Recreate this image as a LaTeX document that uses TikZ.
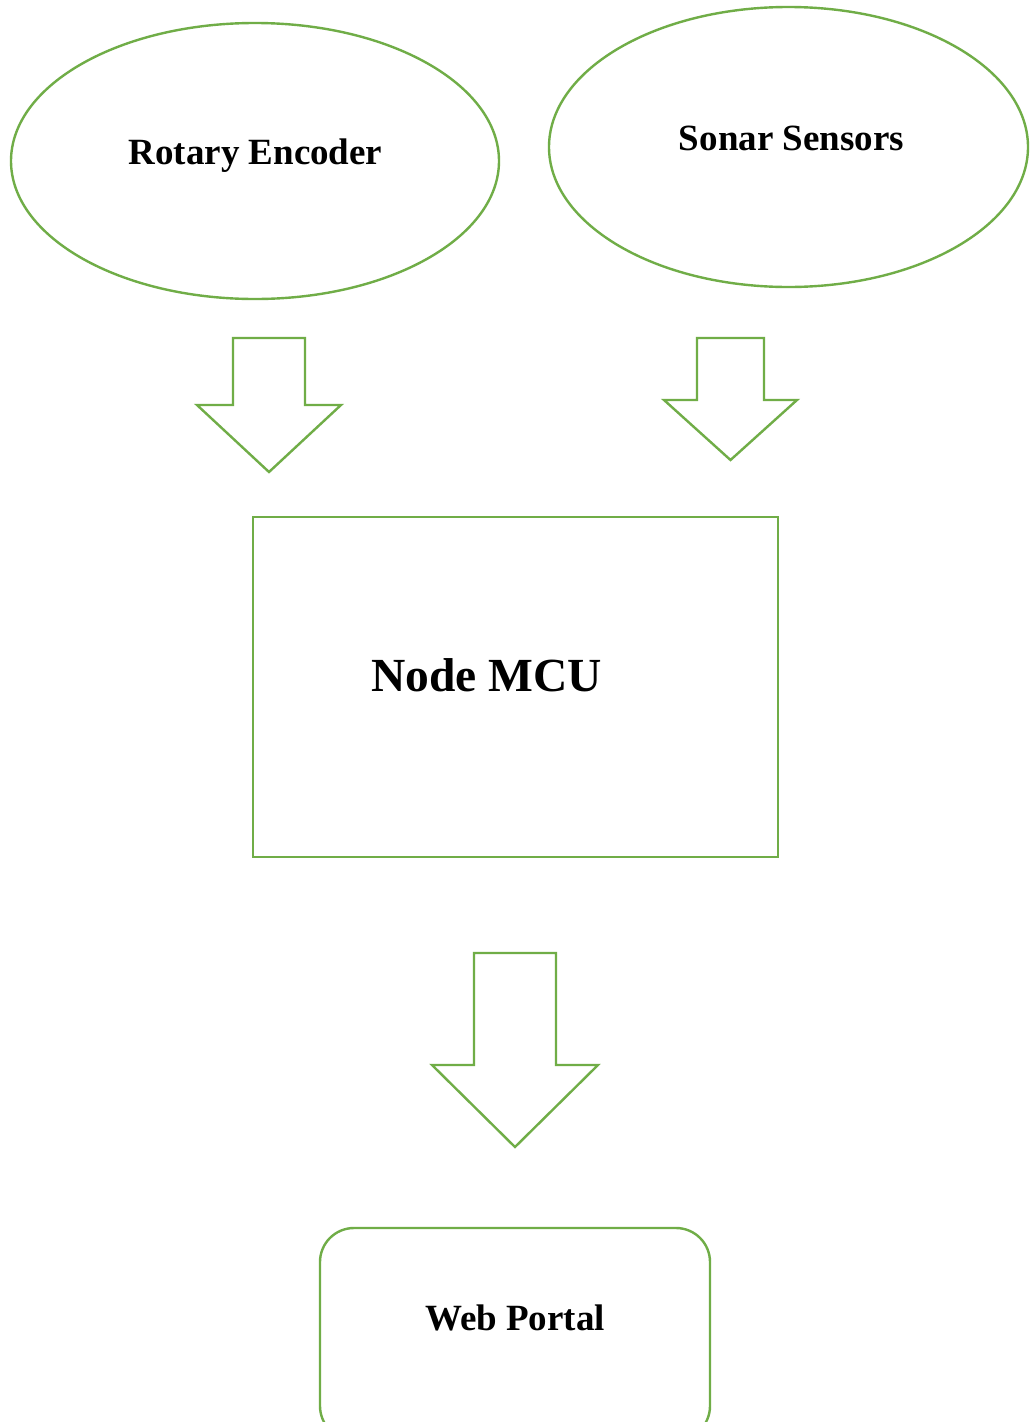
\documentclass[tikz,border=0pt]{standalone}
\usepackage{fontspec}
\setmainfont{Liberation Serif}
\usetikzlibrary{shapes.geometric}
\definecolor{lgreen}{HTML}{70AD47}
\tikzset{
  outline/.style={draw=lgreen, line width=2.4pt},
  label37/.style={font=\bfseries\fontsize{37}{44}\selectfont, anchor=base, inner sep=0},
  bigarrow/.style={outline, line join=miter},
}
\begin{document}
\begin{tikzpicture}[x=1pt,y=-1pt]
\clip (0,0) rectangle (1029,1422);
\fill[white] (0,0) rectangle (1029,1422);
% ellipses
\node (enc) [outline, ellipse, inner sep=0, minimum width=488pt, minimum height=276pt] at (255,161) {};
\node (son) [outline, ellipse, inner sep=0, minimum width=479pt, minimum height=280pt] at (788.5,147) {};
\node (enclbl) [label37] at (255.5,164) {Rotary Encoder};
\node (sonlbl) [label37] at (791.5,150) {Sonar Sensors};
% MCU box
\node (mcu) [outline, rectangle, inner sep=0, minimum width=525pt, minimum height=340pt] at (515.5,687) {};
\node (mculbl) [label37, font=\bfseries\fontsize{47.5}{56}\selectfont] at (486.5,691) {Node MCU};
% Web portal
\node (web) [outline, rectangle, rounded corners=34pt, inner sep=0, minimum width=390pt, minimum height=212pt] at (515,1334) {};
\node (weblbl) [label37] at (515,1330) {Web Portal};
% block arrows
\draw[bigarrow] (233,338) -- (305,338) -- (305,405) -- (341,405) -- (269,472) -- (197,405) -- (233,405) -- cycle;
\draw[bigarrow] (697,338) -- (764,338) -- (764,400) -- (797,400) -- (730.5,460) -- (664,400) -- (697,400) -- cycle;
\draw[bigarrow] (474,953) -- (556,953) -- (556,1065) -- (598,1065) -- (515,1147) -- (432,1065) -- (474,1065) -- cycle;
\end{tikzpicture}
\end{document}
